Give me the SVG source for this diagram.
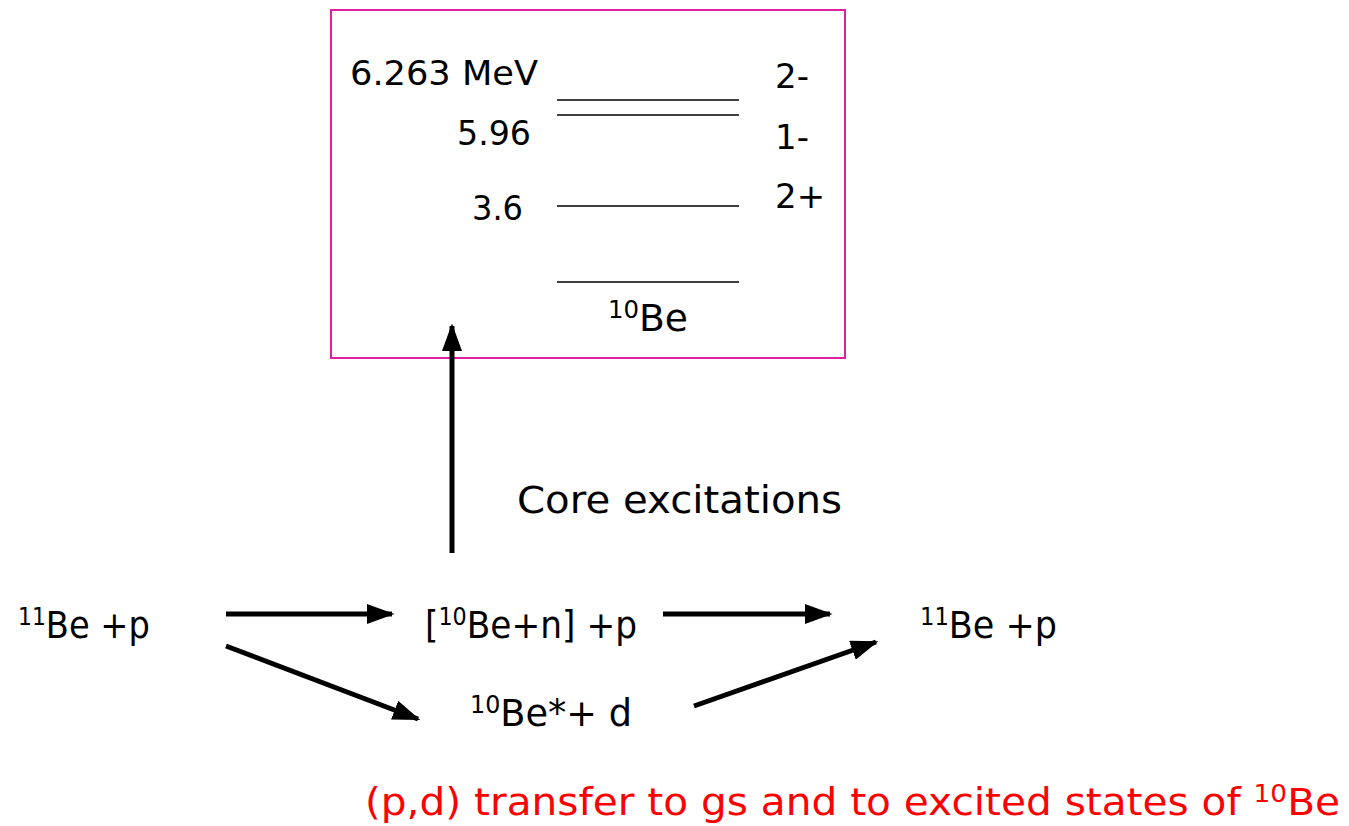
<svg xmlns="http://www.w3.org/2000/svg" width="1349" height="826" viewBox="0 0 1349 826">
<style>
text{font-family:"Comic Sans MS","DejaVu Sans","Noto Sans",sans-serif;fill:#000}
.t{font-size:37px}
.s{font-size:34px}
.sup{font-size:24px}
.lvl{stroke:#000;stroke-width:1.5}
.arr{stroke:#000;stroke-width:5;fill:none;marker-end:url(#ah)}
.red{fill:#ff0000}
</style>
<defs>
<marker id="ah" markerWidth="5.5" markerHeight="4" refX="5" refY="2" orient="auto" markerUnits="strokeWidth">
<path d="M0,0 L5.5,2 L0,4 Z" fill="#000"/>
</marker>
</defs>
<rect width="1349" height="826" fill="#fff"/>
<g id="levelbox">
<rect x="331" y="10" width="514" height="348" fill="none" stroke="#e020a0" stroke-width="2"/>
<line class="lvl" x1="557" y1="100" x2="739" y2="100"/>
<line class="lvl" x1="557" y1="115" x2="739" y2="115"/>
<line class="lvl" x1="557" y1="206" x2="739" y2="206"/>
<line class="lvl" x1="557" y1="282" x2="739" y2="282"/>
<text class="s" x="350" y="85" textLength="188" lengthAdjust="spacingAndGlyphs">6.263 MeV</text>
<text class="s" x="457" y="145" textLength="74" lengthAdjust="spacingAndGlyphs">5.96</text>
<text class="s" x="472" y="220" textLength="51" lengthAdjust="spacingAndGlyphs">3.6</text>
<text class="s" x="775" y="88">2-</text>
<text class="s" x="775" y="149">1-</text>
<text class="s" x="775" y="208">2+</text>
<text class="t" x="608" y="331" textLength="80" lengthAdjust="spacingAndGlyphs"><tspan class="sup" dy="-13">10</tspan><tspan dy="13">Be</tspan></text>
</g>
<g id="core-label">
<text class="t" x="517" y="513" textLength="325" lengthAdjust="spacingAndGlyphs">Core excitations</text>
</g>
<g id="n-11be-left">
<text class="t" x="18" y="638" textLength="132" lengthAdjust="spacingAndGlyphs"><tspan class="sup" dy="-13">11</tspan><tspan dy="13">Be +p</tspan></text>
</g>
<g id="n-10be-n">
<text class="t" x="425" y="638" textLength="212" lengthAdjust="spacingAndGlyphs">[<tspan class="sup" dy="-13">10</tspan><tspan dy="13">Be+n] +p</tspan></text>
</g>
<g id="n-11be-right">
<text class="t" x="920" y="638" textLength="137" lengthAdjust="spacingAndGlyphs"><tspan class="sup" dy="-13">11</tspan><tspan dy="13">Be +p</tspan></text>
</g>
<g id="n-10be-d">
<text class="t" x="470" y="726" textLength="162" lengthAdjust="spacingAndGlyphs"><tspan class="sup" dy="-13">10</tspan><tspan dy="13">Be*+ d</tspan></text>
</g>
<g id="caption">
<text class="t red" x="365" y="815" textLength="975" lengthAdjust="spacingAndGlyphs">(p,d) transfer to gs and to excited states of <tspan class="sup" dy="-13">10</tspan><tspan dy="13">Be</tspan></text>
</g>
<g id="connectors">
<line class="arr" x1="452" y1="553" x2="452" y2="326"/>
<line class="arr" x1="226" y1="614" x2="392" y2="614"/>
<line class="arr" x1="663" y1="614" x2="830" y2="614"/>
<line class="arr" x1="226" y1="646" x2="418" y2="719"/>
<line class="arr" x1="694" y1="706" x2="876" y2="642"/>
</g>
</svg>
